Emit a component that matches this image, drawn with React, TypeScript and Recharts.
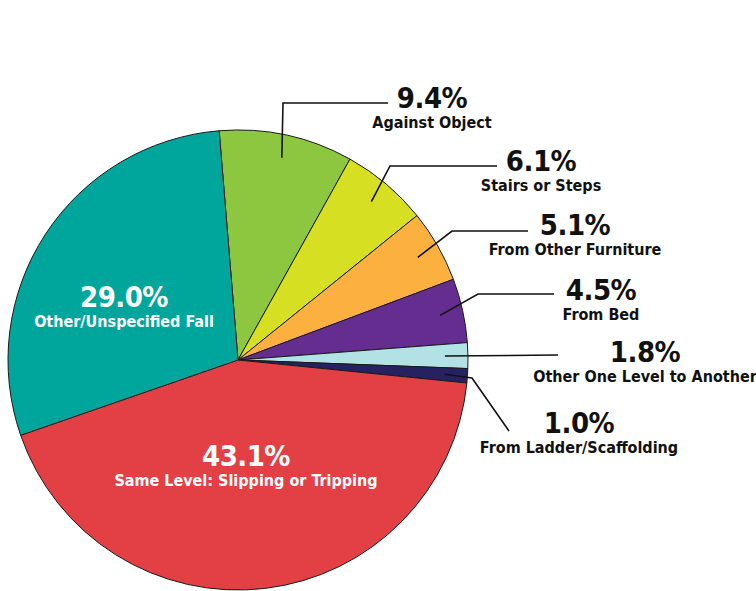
import { PieChart, Pie, Cell } from 'recharts';

const categories = [
  'Against Object',
  'Stairs or Steps',
  'From Other Furniture',
  'From Bed',
  'Other One Level to Another',
  'From Ladder/Scaffolding',
  'Same Level: Slipping or Tripping',
  'Other/Unspecified Fall',
];

const shares = [9.4, 6.1, 5.1, 4.5, 1.8, 1.0, 43.1, 29.0];

const colors = ['#8DC63F', '#D7DF23', '#FBB040', '#662D91', '#B2E1E6', '#262262', '#E34046', '#00A69C'];

const data = categories.map((name, i) => ({ name, value: shares[i] }));

// label placement: text centre x, percent baseline y, leader points after the slice start
interface LabelSpot {
  x: number;
  y: number;
  inside?: boolean;
  leader?: [number, number][];
}

const spots: Record<string, LabelSpot> = {
  'Against Object': { x: 432, y: 108, leader: [[283, 103], [388, 103]] },
  'Stairs or Steps': { x: 541, y: 171, leader: [[390, 166], [497, 166]] },
  'From Other Furniture': { x: 575, y: 235, leader: [[452, 231], [528, 231]] },
  'From Bed': { x: 601, y: 300, leader: [[478, 294], [554, 294]] },
  'Other One Level to Another': { x: 645, y: 362, leader: [[558, 355]] },
  'From Ladder/Scaffolding': { x: 579, y: 433, leader: [[472, 378], [509, 431]] },
  'Same Level: Slipping or Tripping': { x: 246, y: 466, inside: true },
  'Other/Unspecified Fall': { x: 124, y: 307, inside: true },
};

const RAD = Math.PI / 180;
const FONT = '"DejaVu Sans Condensed", "DejaVu Sans", sans-serif';

function renderLabel(props: any) {
  const { cx, cy, midAngle, outerRadius, name, value } = props;
  const spot = spots[name];
  if (!spot) return null;
  const fill = spot.inside ? '#ffffff' : '#111111';
  let line = null;
  if (spot.leader) {
    const r = outerRadius * 0.9;
    const sx = cx + r * Math.cos(-midAngle * RAD);
    const sy = cy + r * Math.sin(-midAngle * RAD);
    const pts = [[sx, sy], ...spot.leader].map((p) => p.join(',')).join(' ');
    line = <polyline points={pts} fill="none" stroke="#111111" strokeWidth={1.6} />;
  }
  return (
    <g>
      {line}
      <text
        x={spot.x}
        y={spot.y}
        textAnchor="middle"
        fill={fill}
        fontFamily={FONT}
        fontWeight="bold"
        fontSize={29}
        letterSpacing={-0.5}
      >
        {value.toFixed(1)}%
      </text>
      <text
        x={spot.x}
        y={spot.y + 20}
        textAnchor="middle"
        fill={fill}
        fontFamily={FONT}
        fontWeight="bold"
        fontSize={16}
      >
        {name}
      </text>
    </g>
  );
}

export default function App() {
  return (
    <div style={{ position: 'absolute', left: 0, top: 0, width: 756, height: 591, background: '#fff' }}>
      <PieChart width={756} height={591} margin={{ top: 0, right: 0, bottom: 0, left: 0 }}>
        <Pie
          data={data}
          dataKey="value"
          nameKey="name"
          cx={238}
          cy={360}
          outerRadius={230}
          startAngle={94.7}
          endAngle={-265.3}
          stroke="#1a1a1a"
          strokeWidth={1}
          label={renderLabel}
          labelLine={false}
          isAnimationActive={false}
        >
          {data.map((d, i) => (
            <Cell key={d.name} fill={colors[i]} />
          ))}
        </Pie>
      </PieChart>
    </div>
  );
}
